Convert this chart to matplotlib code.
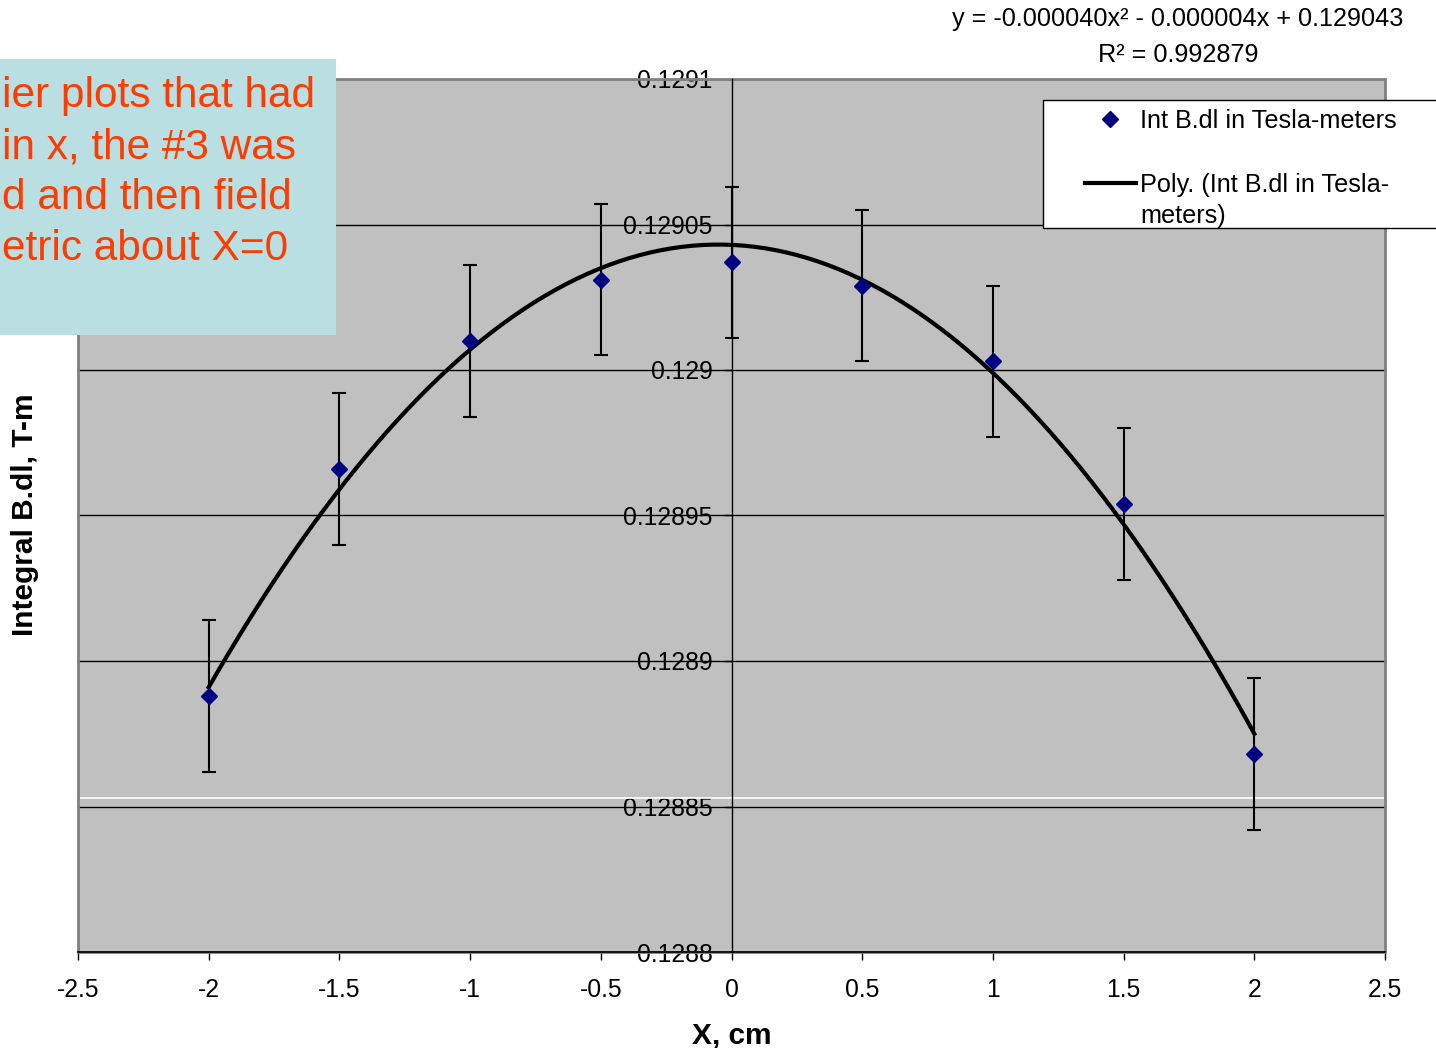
import numpy as np
import matplotlib
matplotlib.use('Agg')
import matplotlib.pyplot as plt
from matplotlib.patches import Rectangle
from matplotlib.legend_handler import HandlerLine2D

plt.rcParams['font.family'] = ['Liberation Sans', 'DejaVu Sans']

# Dados
x_pos = [-2, -1.5, -1, -0.5, 0, 0.5, 1, 1.5, 2]
int_bdl = [0.128888, 0.128966, 0.129010, 0.129031, 0.129037,
           0.129029, 0.129003, 0.128954, 0.128868]
erro = [0.000026, 0.000026, 0.000026, 0.000026, 0.000026,
        0.000026, 0.000026, 0.000026, 0.000026]
coef_fit = [-0.000040, -0.000004, 0.129043]
x_ticks = [-2.5, -2, -1.5, -1, -0.5, 0, 0.5, 1, 1.5, 2, 2.5]
y_ticks = [0.1288, 0.12885, 0.1289, 0.12895, 0.129, 0.12905, 0.1291]
y_labels = ['0.1288', '0.12885', '0.1289', '0.12895', '0.129', '0.12905', '0.1291']
nota = ['ier plots that had', 'in x, the #3 was', 'd and then field', 'etric about X=0']

W, H = 1436, 1048


def fx(px):
    return px / W


def fy(py):
    return 1 - py / H


# linha da legenda alinhada com a primeira linha do texto
class HandlerTopo(HandlerLine2D):
    def create_artists(self, legend, orig_handle, xdescent, ydescent,
                       width, height, fontsize, trans):
        arts = super().create_artists(legend, orig_handle, xdescent, ydescent,
                                      width, height, fontsize, trans)
        for a in arts:
            a.set_ydata(np.asarray(a.get_ydata()) + 13.5)
        return arts


fig = plt.figure(figsize=(W / 100, H / 100), dpi=100)
ax = fig.add_axes([fx(78), fy(952), fx(1385) - fx(78), fy(79) - fy(952)])
ax.set_facecolor('#C0C0C0')
ax.set_xlim(-2.5, 2.5)
ax.set_ylim(0.1288, 0.1291)

# grelha e eixos
ax.set_yticks(y_ticks, y_labels)
ax.set_xticks(x_ticks, ['%g' % v for v in x_ticks])
ax.yaxis.grid(True, color='black', lw=1)
ax.set_axisbelow(True)
ax.axhline(0.128853, color='white', lw=1.2, zorder=1)
ax.add_patch(Rectangle((0, 0), 1, 1, transform=ax.transAxes, fill=False,
                       ec='#808080', lw=2, clip_on=False, zorder=1.5))
ax.spines['left'].set_position(('data', 0))
ax.spines['left'].set_color('black')
ax.spines['left'].set_linewidth(1)
ax.spines['bottom'].set_color('black')
ax.spines['bottom'].set_linewidth(1.2)
ax.spines['top'].set_visible(False)
ax.spines['right'].set_visible(False)
ax.tick_params(axis='y', direction='out', length=5, width=1, pad=8.5, labelsize=17.8)
ax.tick_params(axis='x', direction='out', length=6, width=1, pad=13, labelsize=17.8)

# barras de erro, pontos e ajuste polinomial
ax.errorbar(x_pos, int_bdl, yerr=erro, fmt='none', ecolor='black',
            elinewidth=1.5, capsize=5, capthick=1.5, zorder=3)
xf = np.linspace(min(x_pos), max(x_pos), 200)
linha_fit, = ax.plot(xf, np.polyval(coef_fit, xf), color='black', lw=3, zorder=4)
pontos, = ax.plot(x_pos, int_bdl, 'D', color='#000080', ms=8, ls='none', zorder=5)

# caixa de texto
fig.add_artist(Rectangle((0, fy(335)), fx(336), fy(59) - fy(335),
                         transform=fig.transFigure, fc='#B9DFE3', ec='none', zorder=4))
for i, linha in enumerate(nota):
    fig.text(fx(2), fy(96 + 51 * i), linha, ha='left', va='center',
             fontsize=30.5, color='#FF3C00', zorder=6)

# legenda
fig.add_artist(Rectangle((fx(1043), fy(228)), fx(1445) - fx(1043), fy(100) - fy(228),
                         transform=fig.transFigure, fc='white', ec='black', lw=1, zorder=4.5))
leg = fig.legend([pontos, linha_fit],
                 ['Int B.dl in Tesla-meters', 'Poly. (Int B.dl in Tesla-\nmeters)'],
                 loc='upper left', bbox_to_anchor=(fx(1085), fy(109)),
                 bbox_transform=fig.transFigure, frameon=False, borderpad=0,
                 borderaxespad=0, handlelength=2.0, handletextpad=0.17,
                 labelspacing=1.6, fontsize=18.2,
                 handler_map={linha_fit: HandlerTopo()})
for t in leg.get_texts():
    t.set_linespacing(1.35)

# equacao e R2
fig.text(fx(1178), fy(19), 'y = -0.000040x² - 0.000004x + 0.129043',
         ha='center', va='center', fontsize=18.2)
fig.text(fx(1178), fy(55), 'R² = 0.992879', ha='center', va='center', fontsize=18.2)

# titulos dos eixos
fig.text(fx(732), fy(1043), 'X, cm', ha='center', va='baseline',
         fontsize=21.5, weight='bold')
fig.text(fx(25), fy(515), 'Integral B.dl, T-m', rotation=90, ha='center',
         va='center', fontsize=21.5, weight='bold')

fig.savefig('out.png', dpi=100)
